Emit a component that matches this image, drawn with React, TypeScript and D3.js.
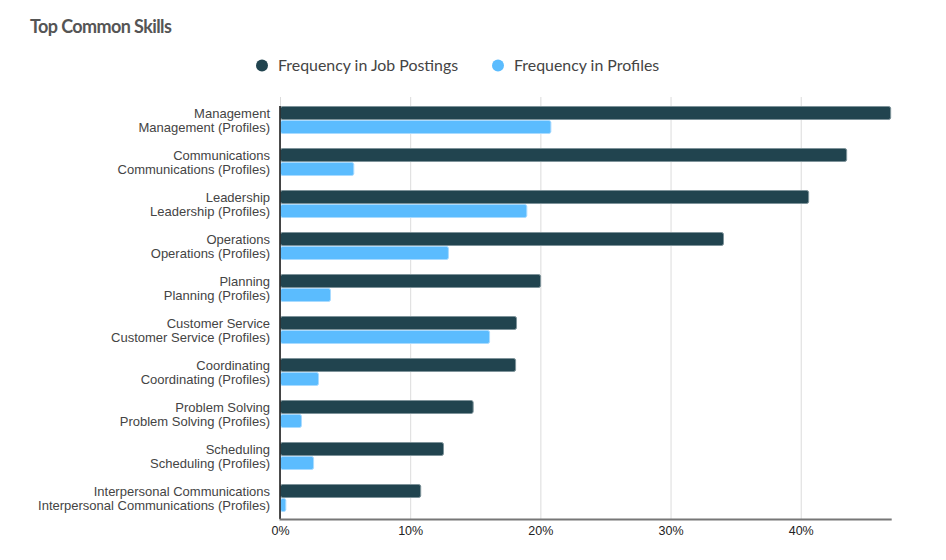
import React from "react";
import * as d3 from "d3";

const categories = [
  "Management",
  "Communications",
  "Leadership",
  "Operations",
  "Planning",
  "Customer Service",
  "Coordinating",
  "Problem Solving",
  "Scheduling",
  "Interpersonal Communications",
];
const jobPostings = [46.87, 43.49, 40.57, 34.03, 19.98, 18.13, 18.06, 14.8, 12.52, 10.77];
const profiles = [20.77, 5.63, 18.92, 12.9, 3.84, 16.06, 2.92, 1.61, 2.54, 0.41];
const tickValues = [0, 10, 20, 30, 40];
const seriesNames = ["Frequency in Job Postings", "Frequency in Profiles"];
const seriesColors = ["#21444f", "#5bbcfe"];
const seriesStrokes = ["#7e939a", "#a9dbff"];

const W = 946;
const H = 560;
const X0 = 280.5;
const X1 = 891.7;
const YTOP = 99;
const YBOT = 519;

export default function App() {
  const x = d3.scaleLinear().domain([0, 46.95]).range([X0, X1]);
  const y = d3
    .scaleBand<string>()
    .domain(categories)
    .range([YTOP, YBOT])
    .paddingInner(1 / 3)
    .paddingOuter(1 / 6);
  const sub = d3.scaleBand<number>().domain([0, 1]).range([0, y.bandwidth()]);
  const series = [jobPostings, profiles];

  return (
    <svg width={W} height={H} style={{ position: "absolute", left: 0, top: 0, background: "#fff" }}>
      <text x={30} y={33} fontFamily="Lato" fontWeight={700} fontSize={18} fill="#555" letterSpacing={-0.6}>
        Top Common Skills
      </text>
      {/* legend */}
      <g fontFamily="Lato" fontSize={15.9} fill="#444">
        <circle cx={262} cy={65.5} r={6} fill={seriesColors[0]} />
        <text x={278} y={71}>{seriesNames[0]}</text>
        <circle cx={498} cy={65.5} r={6} fill={seriesColors[1]} />
        <text x={514} y={71}>{seriesNames[1]}</text>
      </g>
      {/* grid */}
      {tickValues.map((t) => (
        <line key={t} x1={x(t)} x2={x(t)} y1={97} y2={YBOT} stroke="#dcdcdc" strokeWidth={1} />
      ))}
      {/* bars */}
      {categories.map((c, i) => (
        <g key={c}>
          {series.map((s, k) => (
            <rect
              key={k}
              x={x(0)}
              y={(y(c) as number) + (sub(k) as number) + 0.5}
              width={Math.max(0, x(s[i]) - x(0))}
              height={sub.bandwidth() - 1}
              rx={2}
              fill={seriesColors[k]}
              stroke={seriesStrokes[k]}
              strokeWidth={1}
            />
          ))}
          <text
            x={270}
            y={(y(c) as number) + sub.bandwidth() / 2 + 4.6}
            textAnchor="end"
            fontFamily="Liberation Sans, Arial, sans-serif"
            fontSize={13}
            fill="#444"
          >
            {c}
          </text>
          <text
            x={270}
            y={(y(c) as number) + sub.bandwidth() * 1.5 + 4.6}
            textAnchor="end"
            fontFamily="Liberation Sans, Arial, sans-serif"
            fontSize={13}
            fill="#444"
          >
            {c + " (Profiles)"}
          </text>
        </g>
      ))}
      {/* left axis */}
      <line x1={X0 - 0.5} x2={X0 - 0.5} y1={106} y2={YBOT} stroke="#111" strokeWidth={1.5} />
      {/* bottom axis */}
      <line x1={X0 - 1} x2={X1} y1={YBOT + 0.5} y2={YBOT + 0.5} stroke="#777" strokeWidth={2} />
      {tickValues.map((t) => (
        <text
          key={t}
          x={x(t)}
          y={535}
          textAnchor="middle"
          fontFamily="Liberation Sans, Arial, sans-serif"
          fontSize={12.5}
          fill="#222"
        >
          {t + "%"}
        </text>
      ))}
    </svg>
  );
}
